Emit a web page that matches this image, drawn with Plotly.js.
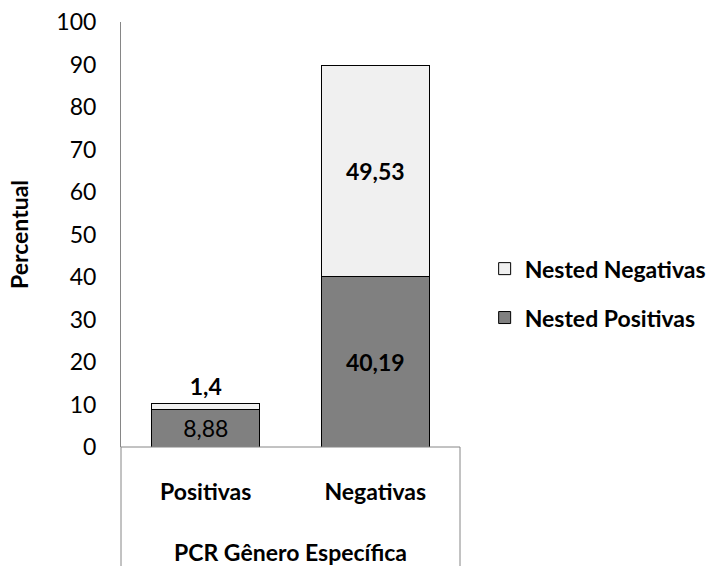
<!DOCTYPE html>
<html>
<head>
<meta charset="utf-8">
<script src="https://cdn.plot.ly/plotly-3.0.1.min.js"></script>
<style>html,body{margin:0;padding:0;background:#fff;}#chart{width:718px;height:566px;}</style>
</head>
<body>
<div id="chart"></div>
<script>
// PCR Gênero Específica vs Nested results (percent)
const categories = ['Positivas', 'Negativas'];
const nestedPositivas = [8.88, 40.19];
const nestedNegativas = [1.4, 49.53];
const seriesNames = ['Nested Positivas', 'Nested Negativas'];

const FONT = 'Lato, "Open Sans", sans-serif';
const SIZE = 23;
const fmt = v => String(v).replace('.', ',');

const traces = [
  {
    type: 'bar', name: seriesNames[0], x: categories, y: nestedPositivas,
    legendgroup: 'pos', legendrank: 2,
    marker: {color: '#808080', line: {color: '#000', width: 1}},
    text: nestedPositivas.map((v, i) => i === 0 ? fmt(v) : '<b>' + fmt(v) + '</b>'),
    textposition: 'inside', insidetextanchor: 'middle', textangle: 0,
    constraintext: 'none',
    insidetextfont: {family: FONT, size: SIZE, color: '#000'},
    width: 0.64, hoverinfo: 'none'
  },
  {
    type: 'bar', name: seriesNames[1], x: categories, y: nestedNegativas,
    legendgroup: 'neg', legendrank: 1,
    marker: {color: '#f0f0f0', line: {color: '#000', width: 1}},
    text: nestedNegativas.map(v => '<b>' + fmt(v) + '</b>'),
    textposition: ['outside', 'inside'], insidetextanchor: 'middle', textangle: 0,
    constraintext: 'none', cliponaxis: false,
    insidetextfont: {family: FONT, size: SIZE, color: '#000'},
    outsidetextfont: {family: FONT, size: SIZE, color: '#000'},
    width: 0.64, hoverinfo: 'none'
  }
];

const layout = {
  width: 718, height: 566,
  margin: {l: 121, r: 258, t: 22, b: 119, autoexpand: false},
  paper_bgcolor: '#fff', plot_bgcolor: '#fff',
  barmode: 'stack', separators: ', ',
  font: {family: FONT, color: '#000'},
  showlegend: true,
  legend: {
    xref: 'container', yref: 'container',
    x: 0.675, y: 0.482, xanchor: 'left', yanchor: 'middle',
    traceorder: 'grouped', tracegroupgap: 16,
    font: {family: FONT, size: SIZE, weight: 'bold', color: '#000'},
    itemwidth: 30, bgcolor: 'rgba(0,0,0,0)'
  },
  xaxis: {
    type: 'category', showgrid: false, zeroline: false,
    showline: false, ticks: '', ticklabelstandoff: 29,
    tickfont: {family: FONT, size: SIZE, weight: 'bold', color: '#000'},
    title: {text: 'PCR Gênero Específica', standoff: 40,
      font: {family: FONT, size: SIZE, weight: 'bold', color: '#000'}}
  },
  yaxis: {
    range: [0, 100], dtick: 10, tick0: 0, showgrid: false, zeroline: false,
    showline: true, linecolor: '#868686', linewidth: 1, ticks: '',
    ticklabelstandoff: 19,
    tickfont: {family: FONT, size: SIZE, color: '#000'},
    title: {text: 'Percentual', standoff: 21,
      font: {family: FONT, size: SIZE, weight: 'bold', color: '#000'}}
  },
  shapes: [
    {type: 'line', xref: 'paper', yref: 'paper', x0: 0, x1: 1, y0: 0, y1: 0,
     line: {color: '#868686', width: 1}},
    {type: 'line', xref: 'paper', yref: 'paper', x0: 0, x1: 0, y0: 0, y1: -0.3,
     line: {color: '#868686', width: 1}},
    {type: 'line', xref: 'paper', yref: 'paper', x0: 1, x1: 1, y0: 0, y1: -0.3,
     line: {color: '#868686', width: 1}}
  ]
};

Plotly.newPlot('chart', traces, layout, {displayModeBar: false, staticPlot: true});
</script>
</body>
</html>
